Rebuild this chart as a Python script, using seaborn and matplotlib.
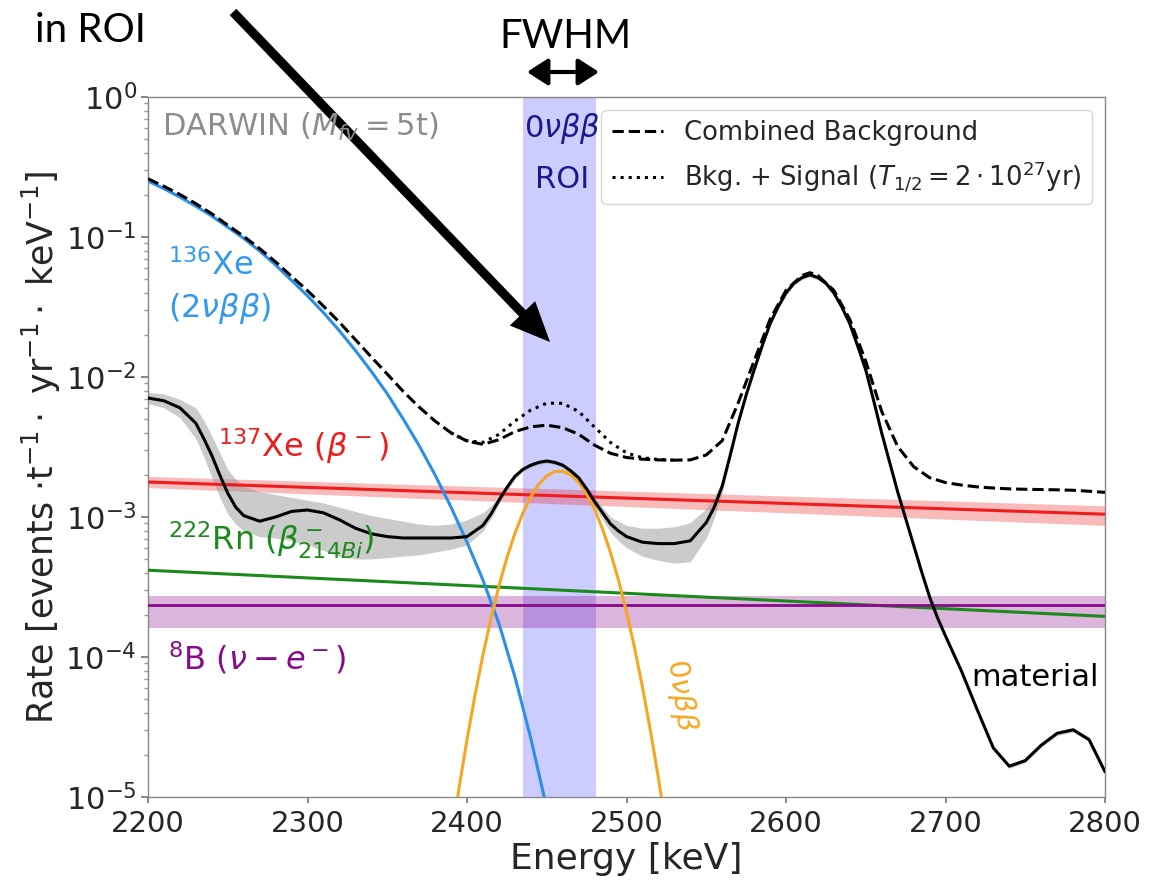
import numpy as np
import pandas as pd
import matplotlib
matplotlib.use("Agg")
import matplotlib.pyplot as plt
from matplotlib.patches import FancyArrowPatch
from matplotlib.lines import Line2D
import seaborn as sns

# ---------------- data (log10 of rate) ----------------
material_energy = [2200, 2210, 2220, 2230, 2235, 2240, 2245, 2250, 2255, 2260,
                   2270, 2280, 2290, 2300, 2310, 2320, 2330, 2340, 2350, 2360,
                   2370, 2380, 2390, 2400, 2410, 2415, 2420, 2425, 2430, 2435,
                   2440, 2445, 2450, 2455, 2460, 2465, 2470, 2475, 2480, 2485,
                   2490, 2495, 2500, 2510, 2520, 2530, 2540, 2550, 2555, 2560,
                   2565, 2570, 2575, 2580, 2585, 2590, 2595, 2600, 2605, 2610,
                   2615, 2620, 2625, 2630, 2635, 2640, 2645, 2650, 2655, 2660,
                   2665, 2670, 2675, 2680, 2685, 2690, 2695, 2700, 2710, 2720,
                   2730, 2740, 2750, 2760, 2770, 2780, 2790, 2800]
material_log = [-2.15, -2.17, -2.22, -2.33, -2.44, -2.56, -2.70, -2.83, -2.93, -2.99,
                -3.03, -3.00, -2.96, -2.95, -2.97, -3.02, -3.08, -3.12, -3.14, -3.15,
                -3.15, -3.15, -3.15, -3.14, -3.06, -2.98, -2.88, -2.79, -2.71, -2.66,
                -2.63, -2.61, -2.60, -2.61, -2.63, -2.67, -2.72, -2.80, -2.89, -2.97,
                -3.05, -3.10, -3.14, -3.18, -3.19, -3.19, -3.17, -3.04, -2.93, -2.78,
                -2.56, -2.33, -2.13, -1.95, -1.78, -1.62, -1.50, -1.40, -1.33, -1.29,
                -1.27, -1.29, -1.33, -1.40, -1.50, -1.62, -1.78, -1.95, -2.17, -2.40,
                -2.61, -2.82, -3.01, -3.20, -3.39, -3.57, -3.72, -3.85, -4.10, -4.38,
                -4.65, -4.78, -4.74, -4.63, -4.545, -4.52, -4.59, -4.82]
material_hi_log = [-2.11, -2.12, -2.16, -2.22, -2.31, -2.42, -2.54, -2.66, -2.73, -2.78,
                   -2.82, -2.84, -2.86, -2.88, -2.90, -2.93, -2.96, -2.99, -3.01, -3.03,
                   -3.05, -3.06, -3.05, -3.02, -2.97, -2.92, -2.86, -2.775, -2.695, -2.645,
                   -2.615, -2.595, -2.585, -2.595, -2.615, -2.655, -2.70, -2.78, -2.86, -2.93,
                   -3.00, -3.03, -3.06, -3.08, -3.08, -3.07, -3.04, -2.94, -2.86, -2.74,
                   -2.545, -2.315, -2.115, -1.935, -1.765, -1.605, -1.485, -1.385, -1.315, -1.275,
                   -1.255, -1.275, -1.315, -1.385, -1.485, -1.605, -1.765, -1.935, -2.155, -2.385,
                   -2.595, -2.805, -2.995, -3.185, -3.375, -3.555, -3.705, -3.835, -4.085, -4.365,
                   -4.635, -4.765, -4.725, -4.615, -4.53, -4.505, -4.575, -4.805]
material_lo_log = [-2.19, -2.22, -2.29, -2.44, -2.57, -2.72, -2.86, -2.98, -3.05, -3.10,
                   -3.14, -3.15, -3.17, -3.20, -3.24, -3.28, -3.30, -3.30, -3.29, -3.28,
                   -3.27, -3.25, -3.23, -3.20, -3.10, -3.01, -2.91, -2.81, -2.73, -2.675,
                   -2.645, -2.625, -2.615, -2.625, -2.645, -2.685, -2.74, -2.83, -2.93, -3.02,
                   -3.11, -3.17, -3.22, -3.28, -3.31, -3.33, -3.32, -3.15, -3.01, -2.83,
                   -2.58, -2.345, -2.145, -1.965, -1.795, -1.635, -1.515, -1.415, -1.345, -1.305,
                   -1.285, -1.305, -1.345, -1.415, -1.515, -1.635, -1.795, -1.965, -2.185, -2.415,
                   -2.625, -2.835, -3.025, -3.215, -3.405, -3.585, -3.735, -3.865, -4.115, -4.395,
                   -4.665, -4.795, -4.755, -4.645, -4.56, -4.535, -4.605, -4.835]

combined_energy = [2200, 2210, 2220, 2230, 2240, 2250, 2260, 2270, 2280, 2290,
                   2300, 2310, 2320, 2330, 2340, 2350, 2360, 2370, 2380, 2390,
                   2400, 2410, 2420, 2430, 2440, 2450, 2460, 2470, 2480, 2490,
                   2500, 2510, 2520, 2530, 2540, 2550, 2560, 2570, 2580, 2590,
                   2600, 2610, 2615, 2620, 2630, 2640, 2650, 2660, 2670, 2680,
                   2690, 2700, 2710, 2720, 2730, 2740, 2750, 2760, 2770, 2780,
                   2790, 2800]
combined_log = [-0.584, -0.638, -0.696, -0.762, -0.834, -0.916, -0.995, -1.083, -1.178, -1.281,
                -1.383, -1.494, -1.609, -1.733, -1.857, -1.979, -2.103, -2.215, -2.315, -2.399,
                -2.458, -2.481, -2.448, -2.390, -2.356, -2.344, -2.362, -2.409, -2.487, -2.545,
                -2.575, -2.587, -2.592, -2.594, -2.592, -2.557, -2.455, -2.186, -1.886, -1.588,
                -1.381, -1.275, -1.255, -1.275, -1.381, -1.589, -1.887, -2.246, -2.496, -2.640,
                -2.719, -2.754, -2.772, -2.785, -2.793, -2.799, -2.802, -2.804, -2.806, -2.809,
                -2.816, -2.824]

signal_energy = [2390, 2400, 2410, 2420, 2430, 2440, 2450, 2460, 2470, 2480,
                 2490, 2500, 2510, 2520, 2530]
bkg_signal_log = [-2.399, -2.455, -2.467, -2.410, -2.315, -2.236, -2.187, -2.188, -2.246, -2.358,
                  -2.468, -2.542, -2.577, -2.589, -2.594]

xe136_energy = [2200, 2210, 2220, 2230, 2240, 2250, 2260, 2270, 2280, 2290,
                2300, 2310, 2320, 2330, 2340, 2350, 2360, 2370, 2380, 2390,
                2400, 2410, 2420, 2430, 2440, 2450]
xe136_log = [-0.60, -0.655, -0.715, -0.78, -0.85, -0.93, -1.01, -1.10, -1.20, -1.31,
             -1.42, -1.54, -1.67, -1.81, -1.96, -2.12, -2.30, -2.49, -2.70, -2.93,
             -3.18, -3.45, -3.76, -4.14, -4.58, -5.08]

onubb_energy = [2390, 2395, 2400, 2405, 2410, 2415, 2420, 2425, 2430, 2435,
                2440, 2445, 2450, 2455, 2460, 2465, 2470, 2475, 2480, 2485,
                2490, 2495, 2500, 2505, 2510, 2515, 2520, 2525]
onubb_log = [-5.31, -4.937, -4.591, -4.274, -3.986, -3.726, -3.495, -3.292, -3.118, -2.972,
             -2.855, -2.767, -2.707, -2.675, -2.672, -2.698, -2.752, -2.835, -2.946, -3.086,
             -3.255, -3.452, -3.677, -3.932, -4.214, -4.526, -4.865, -5.234]

line_energy = [2200, 2800]
xe137_log = [-2.75, -2.98]
xe137_hi_log = [-2.71, -2.92]
xe137_lo_log = [-2.79, -3.06]
rn222_log = [-3.38, -3.71]
b8_log = [-3.625, -3.625]
b8_hi_log = [-3.565, -3.565]
b8_lo_log = [-3.79, -3.79]

roi = [2435, 2481]
xticks = [2200, 2300, 2400, 2500, 2600, 2700, 2800]

# ---------------- style ----------------
sns.set_theme(style="white")
plt.rcParams['font.family'] = ['DejaVu Sans']
plt.rcParams['mathtext.fontset'] = 'dejavusans'

W, H = 1150, 883
fig = plt.figure(figsize=(W / 100, H / 100), dpi=100)
ax = fig.add_axes([148 / W, 1 - 797 / H, 957 / W, 700 / H])

def p(v):
    return np.power(10.0, np.asarray(v, dtype=float))

blue = '#2a8fe8'
red = '#ee1c1c'
green = '#1a8a1a'
purple = '#880a88'
orange = '#f5a623'

# ROI band
ax.axvspan(roi[0], roi[1], color='#0000ff', alpha=0.2, lw=0, zorder=0)

# bands
ax.fill_between(line_energy, p(xe137_lo_log), p(xe137_hi_log), color=red, alpha=0.3, lw=0, zorder=1)
ax.fill_between(line_energy, p(b8_lo_log), p(b8_hi_log), color=purple, alpha=0.3, lw=0, zorder=1)
ax.fill_between(material_energy, p(material_lo_log), p(material_hi_log), color='#999999', alpha=0.5, lw=0, zorder=1)

# lines
df_lines = pd.DataFrame({'E': line_energy, 'xe137': p(xe137_log), 'rn': p(rn222_log), 'b8': p(b8_log)})
sns.lineplot(data=df_lines, x='E', y='xe137', ax=ax, color=red, lw=2.2, zorder=3)
sns.lineplot(data=df_lines, x='E', y='rn', ax=ax, color=green, lw=2.2, zorder=3)
sns.lineplot(data=df_lines, x='E', y='b8', ax=ax, color=purple, lw=2.0, zorder=3)

df_xe = pd.DataFrame({'E': xe136_energy, 'rate': p(xe136_log)})
sns.lineplot(data=df_xe, x='E', y='rate', ax=ax, color=blue, lw=2.2, zorder=4)

df_0n = pd.DataFrame({'E': onubb_energy, 'rate': p(onubb_log)})
sns.lineplot(data=df_0n, x='E', y='rate', ax=ax, color=orange, lw=2.2, zorder=4)

df_mat = pd.DataFrame({'E': material_energy, 'rate': p(material_log)})
sns.lineplot(data=df_mat, x='E', y='rate', ax=ax, color='black', lw=2.2, zorder=5)

df_comb = pd.DataFrame({'E': combined_energy, 'rate': p(combined_log)})
sns.lineplot(data=df_comb, x='E', y='rate', ax=ax, color='black', lw=2.2, linestyle='--', zorder=6)

df_sig = pd.DataFrame({'E': signal_energy, 'rate': p(bkg_signal_log)})
sns.lineplot(data=df_sig, x='E', y='rate', ax=ax, color='black', lw=2.2, linestyle=':', zorder=6)

ax.set_yscale('log')
ax.set_xlim(2200, 2800)
ax.set_ylim(1e-5, 1)
ax.set_xticks(xticks)
ax.set_xticklabels([str(t) for t in xticks])
ax.tick_params(axis='x', labelsize=21, bottom=True, length=4, color='#777777', pad=5)
ax.tick_params(axis='y', which='major', labelsize=22, left=True, length=5, color='#777777', pad=3)
ax.tick_params(axis='y', which='minor', left=True, length=3, color='#999999')
for s in ax.spines.values():
    s.set_color('#888888')
    s.set_linewidth(1.0)

ax.set_xlabel('Energy [keV]', fontsize=26, labelpad=3)
ax.set_ylabel(r'Rate [events $\cdot$t$^{-1}\cdot$ yr$^{-1}\cdot$ keV$^{-1}$]', fontsize=25, labelpad=2)

handles = [Line2D([], [], color='black', lw=2.2, ls='--'),
           Line2D([], [], color='black', lw=2.2, ls=':')]
labels = ['Combined Background', r'Bkg. + Signal ($T_{1/2} = 2\cdot 10^{27}$yr)']
ax.legend(handles, labels, loc='upper right', fontsize=18.6, frameon=True, handlelength=2.0)

# ---------------- texts (figure pixel positions) ----------------
def ft(x, y, s, **kw):
    fig.text(x / W, 1 - y / H, s, **kw)

ft(162, 127, r'DARWIN ($M_{fv} = 5$t)', color='#8c8c8c', fontsize=22, va='center', ha='left')
ft(562, 128, r'$0\nu\beta\beta$', color='#1a1a8c', fontsize=22, va='center', ha='center')
ft(562, 180, 'ROI', color='#1a1a8c', fontsize=22, va='center', ha='center')
ft(168, 266, r'$^{136}$Xe', color='#3399ee', fontsize=23, va='center', ha='left')
ft(168, 308, r'($2\nu\beta\beta$)', color='#3399ee', fontsize=23, va='center', ha='left')
ft(218, 446, r'$^{137}$Xe ($\beta^-$)', color=red, fontsize=23, va='center', ha='left')
ft(168, 540, r'$^{222}$Rn ($\beta^-_{214Bi}$)', color=green, fontsize=23, va='center', ha='left')
ft(168, 658, r'$^{8}$B ($\nu - e^-$)', color=purple, fontsize=23, va='center', ha='left')
ft(1035, 677, 'material', color='black', fontsize=22, va='center', ha='center')
ft(681, 695, r'$0\nu\beta\beta$', color=orange, fontsize=21, va='center', ha='center', rotation=-82)

# annotations above the chart
ft(35, 30, 'in ROI', color='black', fontsize=29, va='center', ha='left', family='Lato')
ft(565, 36, 'FWHM', color='black', fontsize=29, va='center', ha='center', family='Lato')

fig.add_artist(FancyArrowPatch((527 / W, 1 - 72 / H), (599 / W, 1 - 72 / H),
                               transform=fig.transFigure, arrowstyle='<|-|>,head_length=0.7,head_width=0.45',
                               mutation_scale=18, lw=3, color='black', shrinkA=0, shrinkB=0))
fig.add_artist(FancyArrowPatch((233 / W, 1 - 12 / H), (550 / W, 1 - 342 / H),
                               transform=fig.transFigure,
                               arrowstyle='simple,head_length=1.3,head_width=1.15,tail_width=0.3',
                               mutation_scale=22, lw=0, color='black', shrinkA=0, shrinkB=0))

fig.savefig('out.png', dpi=100)
